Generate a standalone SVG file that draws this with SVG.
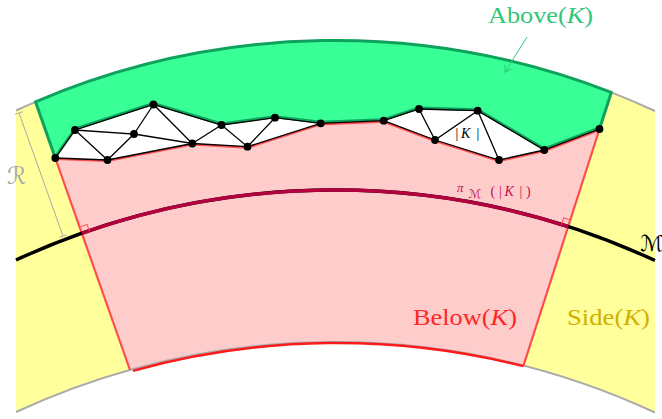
<svg xmlns="http://www.w3.org/2000/svg" width="662" height="419" viewBox="0 0 662 419">
<style>
.lbl{font-family:"Liberation Serif","DejaVu Serif",serif}
.scr{font-family:"DejaVu Serif","DejaVu Sans",serif}
.edge{stroke:#000;stroke-width:1.3;fill:none;stroke-linecap:round}
.vtx{fill:#000}
.gray{stroke:#aaaaaa;stroke-width:2;fill:none}
.redl{stroke:#ff4d4d;stroke-width:2.2;fill:none;stroke-linejoin:round}
.grn{stroke:#0fa25c;stroke-width:3;fill:none;stroke-linejoin:round}
</style>
<defs>
<marker id="arr" viewBox="-8 -5 10 10" refX="0" refY="0" markerWidth="10" markerHeight="10" markerUnits="userSpaceOnUse" orient="auto">
<path d="M-6,-4 Q-2,-0.8 0,0 Q-2,0.8 -6,4" fill="none" stroke="#2fc77a" stroke-width="1"/>
</marker>
</defs>
<g id="regions">
<path id="side-left" d="M16,110.5 A762,762 0 0 1 35.5,101.8 L130,370 A762,762 0 0 0 16,412 Z" fill="#ffff9c"/>
<path id="side-right" d="M611.3,92.4 A762,762 0 0 1 655,111 L655,412.5 A762,762 0 0 0 523.5,365.7 Z" fill="#ffff9c"/>
<path id="below" d="M55.3,158 L107.5,160 L192.3,143.5 L247.5,146.7 L320.7,123.3 L383.7,120.7 L435,140 L499,160 L544.3,150 L599.5,129 L523.5,365.7 A762,762 0 0 0 130,370 Z" fill="#ffcccc"/>
<path id="above" d="M35.5,101.8 A762,762 0 0 1 611.3,92.4 L599.5,129 L544.3,150 L477.7,110.7 L419,109 L383.7,120.7 L320.7,123.3 L275,117.7 L221.5,125 L153.5,104.5 L75,130 L55.3,158 Z" fill="#38ff96"/>
</g>
<g id="connectors">
<path class="gray" d="M16,110.5 A762,762 0 0 1 35.5,101.8"/>
<path class="gray" d="M611.3,92.4 A762,762 0 0 1 655,111"/>
<path class="gray" d="M16,412 A762,762 0 0 1 655,412.5"/>
<path d="M133,370.8 A762,762 0 0 1 523.5,366.2" fill="none" stroke="#ff1a1a" stroke-width="2.4"/>
<path class="redl" d="M130,370 L55.3,158"/>
<path class="redl" d="M523.5,365.7 L599.5,129"/>
<path class="grn" d="M55.3,158 L35.5,101.8 A762,762 0 0 1 611.3,92.4 L599.5,129"/>
<path class="grn" transform="translate(0,-1)" d="M55.3,158 L75,130 L153.5,104.5 L221.5,125 L275,117.7 L320.7,123.3 L383.7,120.7 L419,109 L477.7,110.7 L544.3,150 L599.5,129"/>
<path class="redl" stroke-width="3" transform="translate(0,1)" d="M55.3,158 L107.5,160 L192.3,143.5 L247.5,146.7 L320.7,123.3 L383.7,120.7 L435,140 L499,160 L544.3,150 L599.5,129"/>
<path id="manifold" d="M16,260 A762,762 0 0 1 655,260.5" fill="none" stroke="#000" stroke-width="3.5"/>
<path id="projection" d="M81.8,233.3 A762,762 0 0 1 568.2,226.6" fill="none" stroke="#b5003e" stroke-width="3.5"/>
<path d="M80.5,226.7 L87.1,224.4 L89.4,231" fill="none" stroke="#ff4d4d" stroke-width="1"/>
<path d="M570.3,219.9 L563.7,217.8 L561.5,224.5" fill="none" stroke="#ff4d4d" stroke-width="1"/>
<g id="dimension" stroke="#aaaaaa" stroke-width="1" fill="none">
<path d="M19,113 L63,236"/>
<path d="M15.2,114.3 L22.8,111.7"/>
<path d="M59.2,237.3 L66.8,234.7"/>
</g>
<path d="M527,37 L505,72" fill="none" stroke="#2fc77a" stroke-width="1" marker-end="url(#arr)"/>
</g>
<g id="complex-K">
<path class="edge" d="M55.3,158 L75,130 L153.5,104.5 L221.5,125 L275,117.7 L320.7,123.3 L383.7,120.7 L419,109 L477.7,110.7 L544.3,150 L599.5,129"/>
<path class="edge" d="M55.3,158 L107.5,160 L192.3,143.5 L247.5,146.7 L320.7,123.3 M383.7,120.7 L435,140 L499,160 L544.3,150"/>
<path class="edge" d="M75,130 L107.5,160 M75,130 L134,134 L107.5,160 M134,134 L153.5,104.5 M134,134 L192.3,143.5 L153.5,104.5 M192.3,143.5 L221.5,125 L247.5,146.7 L275,117.7 M419,109 L435,140 L477.7,110.7 L499,160"/>
<g class="vtx">
<circle cx="55.3" cy="158" r="3.9"/><circle cx="75" cy="130" r="3.9"/><circle cx="107.5" cy="160" r="3.9"/>
<circle cx="134" cy="134" r="3.9"/><circle cx="153.5" cy="104.5" r="3.9"/><circle cx="192.3" cy="143.5" r="3.9"/>
<circle cx="221.5" cy="125" r="3.9"/><circle cx="247.5" cy="146.7" r="3.9"/><circle cx="275" cy="117.7" r="3.9"/>
<circle cx="320.7" cy="123.3" r="3.9"/><circle cx="383.7" cy="120.7" r="3.9"/><circle cx="419" cy="109" r="3.9"/>
<circle cx="435" cy="140" r="3.9"/><circle cx="477.7" cy="110.7" r="3.9"/><circle cx="499" cy="160" r="3.9"/>
<circle cx="544.3" cy="150" r="3.9"/><circle cx="599.5" cy="129" r="3.9"/>
</g>
<text class="lbl" font-size="14" fill="#000"><tspan x="455.5" y="138">|</tspan><tspan x="461" y="138" font-style="italic">K</tspan><tspan x="476.5" y="138">|</tspan></text>
</g>
<g id="labels">
<text class="lbl" x="488" y="23" font-size="23" fill="#2fc77a" textLength="105" lengthAdjust="spacingAndGlyphs">Above(<tspan font-style="italic">K</tspan>)</text>
<text class="lbl" x="413" y="325" font-size="23" fill="#ff2626" textLength="104" lengthAdjust="spacingAndGlyphs">Below(<tspan font-style="italic">K</tspan>)</text>
<text class="lbl" x="567" y="325" font-size="23" fill="#d2b000" textLength="83" lengthAdjust="spacingAndGlyphs">Side(<tspan font-style="italic">K</tspan>)</text>
<text class="lbl" font-size="14" fill="#c4104c"><tspan x="457" y="192" font-style="italic" font-size="13">π</tspan><tspan class="scr" x="468.5" y="198" font-size="12">ℳ</tspan><tspan x="490.5" y="195.5">(</tspan><tspan x="499" y="195.5">|</tspan><tspan x="504.5" y="195.5" font-style="italic">K</tspan><tspan x="519.5" y="195.5">|</tspan><tspan x="526" y="195.5">)</tspan></text>
<text class="scr" x="7" y="184" font-size="24" fill="#a8a8a8">ℛ</text>
<text class="scr" x="640" y="251" font-size="22" fill="#000">ℳ</text>
</g>
</svg>
